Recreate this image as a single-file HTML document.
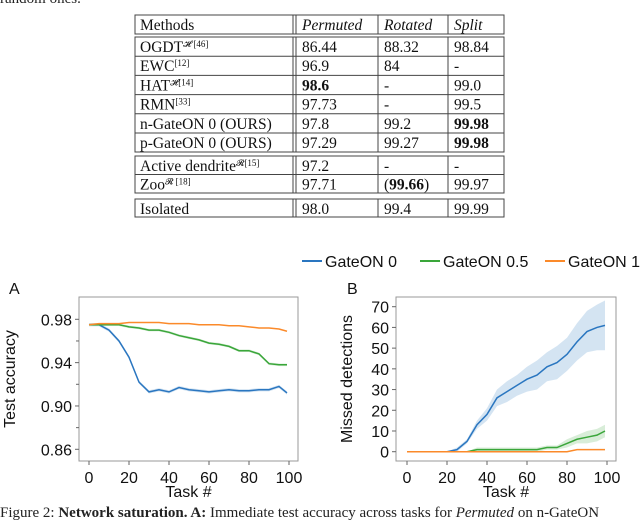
<!DOCTYPE html>
<html><head><meta charset="utf-8">
<style>
body{margin:0;width:640px;height:517px;background:#fff;overflow:hidden;position:relative;font-family:"Liberation Serif",serif;}
.t{position:absolute;font-size:15px;color:#222;white-space:nowrap}
svg text{font-family:"Liberation Sans",sans-serif;fill:#111}
</style></head><body>
<div class="t" style="left:0;top:-9px">random ones.</div>
<svg width="640" height="517" style="position:absolute;left:0;top:0" id="svg"></svg>
<div class="t" style="left:0;top:505px">Figure 2: <b>Network saturation. A:</b> Immediate test accuracy across tasks for <i>Permuted</i> on n-GateON</div>
<script>
// Table data
const tHeader=["Methods","Permuted","Rotated","Split"];
const tRows=[["OGDT<tspan baseline-shift='super' font-size='9'>𝓗 [46]</tspan>","86.44","88.32","98.84"],["EWC<tspan baseline-shift='super' font-size='9'>[12]</tspan>","96.9","84","-"],["HAT<tspan baseline-shift='super' font-size='9'>𝓗[14]</tspan>","<tspan font-weight='bold'>98.6</tspan>","-","99.0"],["RMN<tspan baseline-shift='super' font-size='9'>[33]</tspan>","97.73","-","99.5"],["n-GateON 0 (OURS)","97.8","99.2","<tspan font-weight='bold'>99.98</tspan>"],["p-GateON 0 (OURS)","97.29","99.27","<tspan font-weight='bold'>99.98</tspan>"],["Active dendrite<tspan baseline-shift='super' font-size='9'>𝓡[15]</tspan>","97.2","-","-"],["Zoo<tspan baseline-shift='super' font-size='9'>𝓡 [18]</tspan>","97.71","(<tspan font-weight='bold'>99.66</tspan>)","99.97"],["Isolated","98.0","99.4","99.99"]];
// Chart A data
const tasks=[0,5,10,15,20,25,30,35,40,45,50,55,60,65,70,75,80,85,90,95,99];
const accG0=[0.975,0.975,0.970,0.960,0.945,0.922,0.913,0.915,0.913,0.917,0.915,0.914,0.913,0.914,0.915,0.914,0.914,0.915,0.915,0.918,0.912];
const accG05=[0.975,0.975,0.975,0.975,0.973,0.972,0.970,0.970,0.968,0.965,0.963,0.961,0.958,0.957,0.955,0.951,0.951,0.948,0.939,0.938,0.938];
const accG1=[0.975,0.976,0.976,0.976,0.977,0.977,0.977,0.977,0.976,0.976,0.976,0.975,0.975,0.975,0.974,0.974,0.973,0.972,0.972,0.971,0.969];
const accTicks=[0.86,0.90,0.94,0.98];
// Chart B data
const missG0=[0,0,0,0,0,1,5,13,18,26,29,32,35,37,41,43,47,53,58,60,61];
const missG0Err=[0,0,0,0,0,1,1,2,3,4,5,5,6,7,7,8,8,9,10,11,12];
const missG05=[0,0,0,0,0,0,0,1,1,1,1,1,1,1,2,2,4,6,7,8,10];
const missG05Err=[0,0,0,0,0,0,0,1,1,1,1,1,1,1,1,1,2,2,3,3,3];
const missG1=[0,0,0,0,0,0,0,0,0,0,0,0,0,0,0,0,0,1,1,1,1];
const missTicks=[0,10,20,30,40,50,60,70];
const xTicks=[0,20,40,60,80,100];

const S=document.getElementById('svg');const NS='http://www.w3.org/2000/svg';
function mk(tag,attrs,parent){const e=document.createElementNS(NS,tag);for(const k in attrs)e.setAttribute(k,attrs[k]);(parent||S).appendChild(e);return e;}
// table
const tb=mk('g',{});


const colText=[140,302,384,454];
function rowBox(y1,y2){mk('rect',{x:135,y:y1,width:369,height:y2-y1,fill:'none',stroke:'#444','stroke-width':1},tb);
 mk('line',{x1:293,y1:y1,x2:293,y2:y2,stroke:'#444'},tb);mk('line',{x1:296,y1:y1,x2:296,y2:y2,stroke:'#444'},tb);
 mk('line',{x1:378,y1:y1,x2:378,y2:y2,stroke:'#444'},tb);mk('line',{x1:448,y1:y1,x2:448,y2:y2,stroke:'#444'},tb);}
rowBox(15,34);rowBox(37,152);rowBox(156,193);rowBox(199,217);
const rowYs=[37,56.2,75.4,94.6,113.8,133,156,174.5,199];
[56.2,75.4,94.6,113.8,133,174.5].forEach(y=>mk('line',{x1:135,y1:y,x2:504,y2:y,stroke:'#444'},tb));
function ttext(x,y,html,italic){const e=mk('text',{x:x,y:y,'font-size':15.5},tb);e.style.fontFamily='"Liberation Serif",serif';if(italic)e.setAttribute('font-style','italic');e.innerHTML=html;}
tHeader.forEach((h,i)=>ttext(colText[i],30,h,i>0));
tRows.forEach((r,ri)=>r.forEach((c,ci)=>ttext(colText[ci],rowYs[ri]+15,c,false)));
// legend
const legend=[["GateON 0","#2a76c0",302],["GateON 0.5","#3aa63a",420],["GateON 1","#fb8a2a",545]];
legend.forEach(l=>{const g=mk('g',{});


mk('line',{x1:l[2],y1:261,x2:l[2]+20,y2:261,stroke:l[1],'stroke-width':2},g);
mk('text',{x:l[2]+23,y:267,'font-size':16},g).textContent=l[0];});
function chart(o){
 const g=mk('g',{});
 
 
 const X=v=>o.x0+(v)*(o.x1-o.x0)/100;
 const Y=v=>o.y0+(v-o.vmin)*(o.y1-o.y0)/(o.vmax-o.vmin);
 mk('rect',{x:o.L,y:297,width:o.R-o.L,height:164,fill:'none',stroke:'#999','stroke-width':1},g);
 o.bands.forEach(b=>{if(!b.err)return;let pts=tasks.map((t,i)=>X(t)+','+Y(b.v[i]+b.err[i]));
  pts=pts.concat(tasks.map((t,i)=>X(t)+','+Y(b.v[i]-b.err[i])).reverse());
  const p=mk('polygon',{points:pts.join(' '),fill:b.c,'fill-opacity':0.2},g);
  
  });
 o.bands.forEach(b=>{const p=mk('polyline',{points:tasks.map((t,i)=>X(t)+','+Y(b.v[i])).join(' '),fill:'none',stroke:b.c,'stroke-width':1.5},g);
  
  });
 xTicks.forEach(t=>{mk('line',{x1:X(t),y1:461,x2:X(t),y2:465,stroke:'#666'},g);
  mk('text',{x:X(t),y:483,'font-size':16,'text-anchor':'middle'},g).textContent=t;});
 o.ticks.forEach(t=>{mk('line',{x1:o.L-4,y1:Y(t),x2:o.L,y2:Y(t),stroke:'#666'},g);
  mk('text',{x:o.L-7,y:Y(t)+6,'font-size':16,'text-anchor':'end'},g).textContent=o.fmt(t);});
 (o.minor||[]).forEach(t=>mk('line',{x1:o.L-3,y1:Y(t),x2:o.L,y2:Y(t),stroke:'#666'},g));
 mk('text',{x:(o.L+o.R)/2,y:497,'font-size':16,'text-anchor':'middle'},g).textContent='Task #';
 mk('text',{x:0,y:0,'font-size':16,'text-anchor':'middle',transform:`translate(${o.yl},379) rotate(-90)`},g).textContent=o.ylab;
 mk('text',{x:o.lx,y:294,'font-size':16},g).textContent=o.letter;
}
chart({name:'accuracy-chart',L:79,R:298,x0:89,x1:289,y0:319.3,y1:449.3,vmin:0.98,vmax:0.86,ticks:accTicks,minor:[0.88,0.92,0.96],fmt:v=>v.toFixed(2),
 bands:[{v:accG0,err:accG0.map(()=>0.0015),c:'#2a76c0'},{v:accG05,err:accG05.map(()=>0.0012),c:'#3aa63a'},{v:accG1,c:'#fb8a2a'}],
 yl:15,ylab:'Test accuracy',letter:'A',lx:9});
chart({name:'missed-detections-chart',L:396,R:616,x0:407,x1:607,y0:451.7,y1:306.7,vmin:0,vmax:70,ticks:missTicks,fmt:v=>v,
 bands:[{v:missG0,err:missG0Err,c:'#2a76c0'},{v:missG05,err:missG05Err,c:'#3aa63a'},{v:missG1,c:'#fb8a2a'}],
 yl:352,ylab:'Missed detections',letter:'B',lx:347});
</script>
</body></html>
